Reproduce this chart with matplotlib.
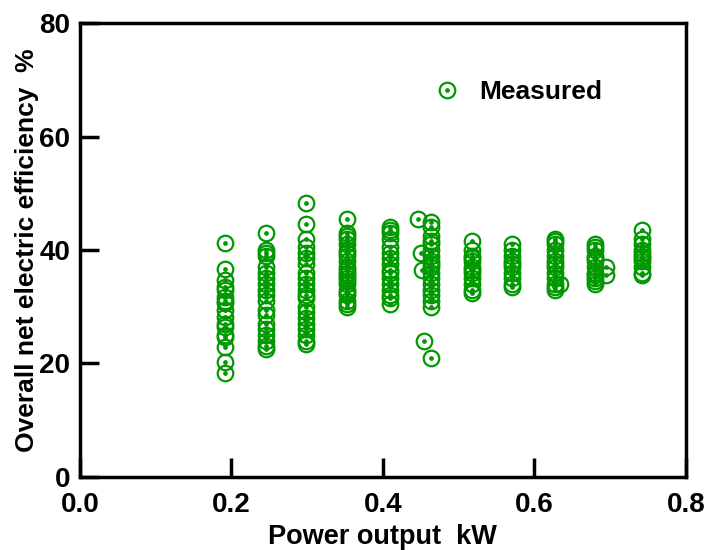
import matplotlib.pyplot as plt
from matplotlib.legend_handler import HandlerTuple

plt.rcParams['font.family'] = ['Liberation Sans', 'DejaVu Sans']
plt.rcParams['font.weight'] = 'bold'

# power output columns (kW) and measured efficiency (%)
x_019 = [0.191] * 17
y_019 = [41.2, 36.7, 34.7, 33.5, 33, 31.7, 31, 30.7, 29.5, 28.2, 27, 26.4, 25, 24.7, 22.9, 20.3, 18.3]
x_025 = [0.246] * 19
y_025 = [43, 40, 39.5, 39, 37, 36, 35, 34, 33, 32, 31, 29.5, 28.5, 27, 26, 25, 24, 23, 22.5]
x_030 = [0.299] * 21
y_030 = [48.2, 44.5, 42, 40.5, 39.5, 38.5, 37.5, 36, 35, 34, 33, 32, 31.5, 30, 29, 28, 27, 26, 25, 24, 23.5]
x_035 = [0.353] * 22
y_035 = [45.5, 43, 42.5, 42, 41, 40, 39.5, 39, 38, 37, 36.5, 36, 35.5, 35, 34.5, 34, 33, 32.5, 32, 31, 30.5, 30]
x_041 = [0.409] * 16
y_041 = [44, 43.5, 43, 42, 40.5, 39.5, 38.5, 37.5, 36.5, 36, 35, 34, 33, 32, 31.5, 30.5]
x_045 = [0.447, 0.450, 0.452, 0.455]
y_045 = [45.5, 39.5, 36.5, 24]
x_046 = [0.464] * 18
y_046 = [45, 44, 42.5, 41.5, 41, 40, 39, 38, 37.5, 37, 36, 35, 34, 33, 32, 31, 30, 21]
x_052 = [0.518] * 12
y_052 = [41.5, 40, 39, 38.5, 38, 37, 36.5, 36, 35, 34, 33, 32.5]
x_057 = [0.571] * 10
y_057 = [41, 40, 39, 38, 37.5, 37, 36, 35, 34, 33.5]
x_063 = [0.627] * 13 + [0.634]
y_063 = [42, 41.5, 41, 40, 39, 38, 37.5, 37, 36, 35, 34, 33.5, 33, 34]
x_068 = [0.68] * 12 + [0.695, 0.695]
y_068 = [41, 40.5, 40, 39, 38.5, 38, 37, 36, 35.5, 35, 34.5, 34, 37, 35.5]
x_075 = [0.742] * 11
y_075 = [43.5, 42, 41, 40, 39.5, 39, 38.5, 38, 37, 36, 35.5]

power = x_019 + x_025 + x_030 + x_035 + x_041 + x_045 + x_046 + x_052 + x_057 + x_063 + x_068 + x_075
eff = y_019 + y_025 + y_030 + y_035 + y_041 + y_045 + y_046 + y_052 + y_057 + y_063 + y_068 + y_075

green = '#009900'

fig = plt.figure(figsize=(7.07, 5.5), dpi=100)
ax = fig.add_axes([0.113, 0.133, 0.857, 0.825])

ring, = ax.plot(power, eff, 'o', ms=11.2, mfc='none', mec=green, mew=1.6, ls='none')
dot, = ax.plot(power, eff, 'o', ms=2.4, mfc=green, mec=green, ls='none')

ax.set_xlim(0, 0.8)
ax.set_ylim(0, 80)
ax.set_xticks([0.0, 0.2, 0.4, 0.6, 0.8])
ax.set_xticklabels(['0.0', '0.2', '0.4', '0.6', '0.8'])
ax.set_yticks([0, 20, 40, 60, 80])

for s in ax.spines.values():
    s.set_linewidth(2.5)
ax.tick_params(direction='in', length=14, width=2.5, labelsize=20)
ax.tick_params(axis='x', pad=11)
ax.tick_params(axis='y', pad=7)

ax.set_xlabel('Power output  kW', fontsize=19.5, fontweight='bold')
ax.xaxis.set_label_coords(0.5, -0.105)
ax.set_ylabel('Overall net electric efficiency  %', fontsize=19, fontweight='bold')
ax.yaxis.set_label_coords(-0.068, 0.5)

ax.legend([(ring, dot)], ['Measured'], handler_map={tuple: HandlerTuple(ndivide=1)},
          loc='center left', bbox_to_anchor=(0.566, 0.848), frameon=False,
          prop={'size': 19, 'weight': 'bold'}, borderpad=0,
          handlelength=0.8, handletextpad=0.85)

fig.savefig('out.png', dpi=100)
